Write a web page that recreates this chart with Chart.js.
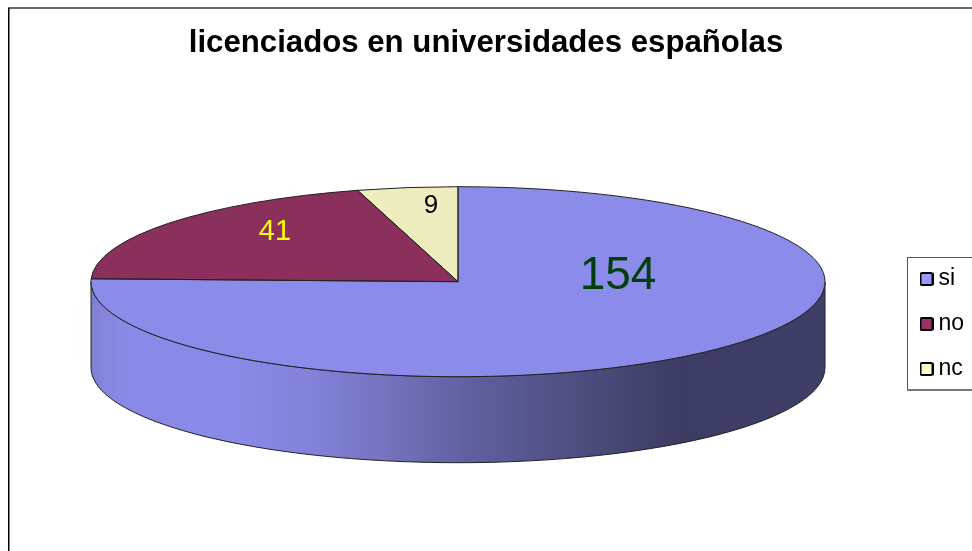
<!DOCTYPE html>
<html><head><meta charset="utf-8">
<style>html,body{margin:0;padding:0;background:#fff}canvas{display:block}</style>
<script src="https://cdn.jsdelivr.net/npm/chart.js@4"></script>
</head><body>
<canvas id="c" width="972" height="551"></canvas>
<script>
const titleText = 'licenciados en universidades españolas';
const categories = ['si', 'no', 'nc'];
const values = [154, 41, 9];
const faceColors = ['#8B8BEA', '#8B2F5C', '#EDEDBD'];
const legendColors = ['#9999FF', '#993366', '#FFFFCC'];
const valueColors = ['#003F0A', '#FFFF00', '#000000'];

const FONT = '"Liberation Sans", Arial, sans-serif';
const geo = { cx: 458, cy: 281.7, rx: 367, ry: 95, depth: 86 };
const valueLabelStyle = [
  { dx: 160, dy: -5, size: 46 },
  { dx: -183, dy: -49.5, size: 29 },
  { dx: -27, dy: -76, size: 26 }
];
const wallStops = [
  [0, '#7E7ED0'], [0.02, '#8686E0'], [0.05, '#8989E8'], [0.20, '#8989E8'], [0.30, '#8282DA'],
  [0.41, '#7272BC'], [0.50, '#6262A4'], [0.62, '#53538A'], [0.74, '#45446F'],
  [0.80, '#3D3C64'], [1, '#3F3E67']
];

function legendMarker(color) {
  const m = document.createElement('canvas');
  m.width = 14; m.height = 14;
  const c = m.getContext('2d');
  c.beginPath();
  c.roundRect(1, 1, 12, 12, 1.5);
  c.fillStyle = color;
  c.fill();
  c.lineWidth = 2;
  c.strokeStyle = '#000';
  c.stroke();
  return m;
}

const pie3d = {
  id: 'pie3d',
  beforeDraw(chart) {
    const ctx = chart.ctx;
    ctx.save();
    ctx.fillStyle = '#fff';
    ctx.fillRect(0, 0, chart.width, chart.height);
    ctx.fillStyle = '#666';
    ctx.fillRect(8, 7, chart.width - 8, 2);
    ctx.fillStyle = '#000';
    ctx.fillRect(8, 8, 1.5, chart.height - 8);
    // legend frame
    ctx.fillStyle = '#555';
    ctx.fillRect(907, 257, 65, 1);
    ctx.fillRect(907, 257, 1, 133);
    ctx.fillStyle = '#777';
    ctx.fillRect(907, 389, 65, 2);
    ctx.restore();
  },
  afterLayout(chart) {
    const l = chart.legend;
    l.left = 904; l.right = 972; l.top = 245.5; l.bottom = 450;
  },
  beforeDatasetsDraw(chart) {
    const ctx = chart.ctx, g = geo;
    const arc = chart.getDatasetMeta(0).data[0];
    const { x, y, outerRadius: R } = arc.getProps(['x', 'y', 'outerRadius'], true);
    const grad = ctx.createLinearGradient(g.cx - g.rx, 0, g.cx + g.rx, 0);
    wallStops.forEach(s => grad.addColorStop(s[0], s[1]));
    ctx.save();
    ctx.beginPath();
    ctx.ellipse(g.cx, g.cy, g.rx, g.ry, 0, Math.PI, 0, true);
    ctx.lineTo(g.cx + g.rx, g.cy + g.depth);
    ctx.ellipse(g.cx, g.cy + g.depth, g.rx, g.ry, 0, 0, Math.PI, false);
    ctx.closePath();
    ctx.fillStyle = grad;
    ctx.fill();
    ctx.strokeStyle = '#222';
    ctx.lineWidth = 1;
    ctx.stroke();
    ctx.restore();
    ctx.save();
    ctx.translate(g.cx, g.cy);
    ctx.scale(g.rx / R, g.ry / R);
    ctx.translate(-x, -y);
  },
  afterDatasetsDraw(chart) {
    const ctx = chart.ctx, g = geo;
    ctx.restore();
    ctx.save();
    ctx.strokeStyle = '#222';
    ctx.lineWidth = 1;
    ctx.lineJoin = 'round';
    chart.getDatasetMeta(0).data.forEach(a => {
      const { startAngle, endAngle } = a.getProps(['startAngle', 'endAngle'], true);
      ctx.beginPath();
      ctx.moveTo(g.cx, g.cy);
      ctx.ellipse(g.cx, g.cy, g.rx, g.ry, 0, startAngle, endAngle, false);
      ctx.closePath();
      ctx.stroke();
    });
    ctx.textAlign = 'center';
    ctx.textBaseline = 'middle';
    values.forEach((v, i) => {
      const s = valueLabelStyle[i];
      ctx.font = s.size + 'px ' + FONT;
      ctx.fillStyle = valueColors[i];
      ctx.fillText(String(v), g.cx + s.dx, g.cy + s.dy);
    });
    ctx.restore();
  }
};

new Chart(document.getElementById('c'), {
  type: 'pie',
  data: {
    labels: categories,
    datasets: [{ data: values, backgroundColor: faceColors, borderWidth: 0, clip: false }]
  },
  options: {
    responsive: false,
    animation: false,
    layout: { padding: 0 },
    plugins: {
      tooltip: { enabled: false },
      title: {
        display: true,
        text: titleText,
        color: '#000',
        font: { family: FONT, size: 31.2, weight: 'bold' },
        padding: { top: 25, bottom: 10 }
      },
      legend: {
        position: 'right',
        align: 'start',
        labels: {
          usePointStyle: true,
          pointStyleWidth: 1,
          boxHeight: 12,
          padding: 22,
          color: '#000',
          font: { family: FONT, size: 23 },
          generateLabels: () => categories.map((t, i) => ({
            text: t, fillStyle: legendColors[i], strokeStyle: '#000', lineWidth: 2, index: i,
            pointStyle: legendMarker(legendColors[i])
          }))
        }
      }
    }
  },
  plugins: [pie3d]
});
</script>
</body></html>
